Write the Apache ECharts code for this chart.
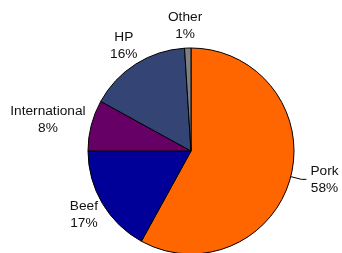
<!DOCTYPE html>
<html>
<head>
<meta charset="utf-8">
<script src="https://cdn.jsdelivr.net/npm/echarts@6/dist/echarts.min.js"></script>
<style>
  html, body { margin: 0; padding: 0; background: #fff; }
  #main { width: 342px; height: 253px; }
</style>
</head>
<body>
<div id="main"></div>
<script>
// slices, clockwise from 12 o'clock
var names = ['Pork', 'Beef', 'International', 'HP', 'Other'];
var shares = [58, 17, 8, 16, 1];
var colors = ['#ff6600', '#000099', '#660066', '#344575', '#808080'];

var cx = 191, cy = 151, r = 103;

// mid angle of each slice (radians, clockwise from top)
var total = shares.reduce(function (a, b) { return a + b; }, 0);
var mids = [];
var acc = 0;
shares.forEach(function (v) {
  mids.push((acc + v / 2) / total * 2 * Math.PI);
  acc += v;
});

var chart = echarts.init(document.getElementById('main'));

chart.setOption({
  animation: false,
  series: [{
    type: 'pie',
    center: [cx, cy],
    radius: r,
    startAngle: 90,
    clockwise: true,
    avoidLabelOverlap: false,
    itemStyle: { borderColor: '#000', borderWidth: 1 },
    emphasis: { disabled: true },
    label: {
      show: true,
      position: 'outside',
      color: '#111',
      fontFamily: 'Liberation Sans, Arial, sans-serif',
      fontSize: 13.7,
      lineHeight: 17,
      distanceToLabelLine: 4,
      formatter: function (p) {
        return '{t|' + p.name + '}\n{t|' + p.value + '%}';
      },
      rich: {
        t: { align: 'center', fontSize: 13.7, lineHeight: 17, color: '#111',
             fontFamily: 'Liberation Sans, Arial, sans-serif' }
      }
    },
    labelLine: { show: false, length: 11, length2: 5, lineStyle: { color: '#000', width: 1 } },
    // Excel-like placement: box pushed out along the slice's mid direction
    labelLayout: function (p) {
      if (p.dataIndex === 0) return {};
      var a = mids[p.dataIndex];
      var dx = Math.sin(a), dy = -Math.cos(a);
      var g = 5;
      var w = p.labelRect.width, h = p.labelRect.height;
      return {
        x: cx + dx * (r + g) + dx * w / 2 - 2,
        y: cy + dy * (r + g) + dy * h / 2,
        align: 'center',
        verticalAlign: 'middle'
      };
    },
    data: names.map(function (n, i) {
      var d = { name: n, value: shares[i], itemStyle: { color: colors[i] } };
      if (i === 0) d.labelLine = { show: true };
      return d;
    })
  }]
});
</script>
</body>
</html>
